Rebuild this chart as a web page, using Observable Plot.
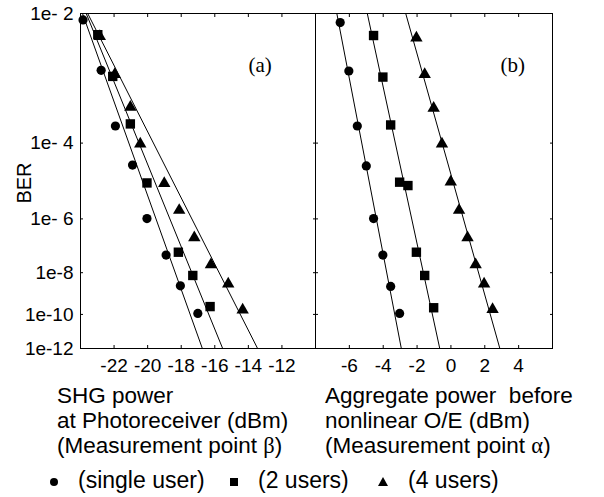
<!DOCTYPE html>
<html><head><meta charset="utf-8">
<script src="https://cdn.jsdelivr.net/npm/d3@7"></script>
<script src="https://cdn.jsdelivr.net/npm/@observablehq/plot@0.6"></script>
<style>
body{margin:0;background:#fff;}
#wrap{position:relative;width:604px;height:497px;font-family:"Liberation Sans",Arial,sans-serif;color:#000;overflow:hidden;}
#pa{position:absolute;left:0;top:0;}
#pb{position:absolute;left:315px;top:0;}
.ln{position:absolute;font-size:22.5px;line-height:25.2px;height:25.2px;white-space:pre;}
.gr{font-family:"Liberation Serif","Times New Roman",serif;}
.leg{position:absolute;top:468px;font-size:23px;line-height:25px;white-space:pre;}
.sym{position:absolute;}
</style></head><body>
<div id="wrap">
<div id="pa"></div><div id="pb"></div>
<div id="titles"></div>
<div id="legend"></div>
</div>
<script>
// ---- data (BER given as log10(BER)) ----
const yExponents = [2, 4, 6, 8, 10, 12];
const yTickLabels = ["1e- 2", "1e- 4", "1e- 6", "1e-8", "1e-10", "1e-12"];
const xTicksA = [-22, -20, -18, -16, -14, -12];
const xTicksB = [-6, -4, -2, 0, 2, 4];
const seriesNames = ["(single user)", "(2 users)", "(4 users)"];
const titleA = ["SHG power", "at Photoreceiver (dBm)", "(Measurement point |β|)"];
const titleB = ["Aggregate power  before", "nonlinear O/E (dBm)", "(Measurement point |α|)"];

// Panel (a): SHG power at photoreceiver
const xA_single = [-23.85, -22.77, -21.92, -20.90, -20.04, -18.90, -18.05, -17.01];
const berA_single = [-2.07, -2.71, -3.65, -4.50, -5.99, -7.28, -8.58, -9.95];
const xA_two = [-22.97, -22.08, -21.03, -20.04, -18.17, -17.31, -16.28];
const berA_two = [-2.24, -2.80, -3.61, -4.95, -7.17, -8.12, -9.59];
const xA_four = [-22.85, -21.96, -21.03, -20.44, -19.01, -18.12, -17.22, -16.23, -15.20, -14.34];
const berA_four = [-2.26, -2.77, -3.30, -4.02, -4.96, -5.73, -6.63, -7.66, -8.49, -9.76];
const fitA_single_x = [-23.88, -16.74], fitA_single_ber = [-2, -12];
const fitA_two_x = [-23.66, -15.53], fitA_two_ber = [-2, -12];
const fitA_four_x = [-23.57, -13.45], fitA_four_ber = [-2, -12];

// Panel (b): aggregate power before nonlinear O/E
const xB_single = [-6.54, -6.03, -5.53, -5.00, -4.57, -4.02, -3.56, -3.03];
const berB_single = [-2.10, -2.72, -3.65, -4.52, -5.99, -7.28, -8.61, -9.95];
const xB_two = [-4.57, -4.02, -3.56, -3.03, -2.54, -2.04, -1.55, -1.02];
const berB_two = [-2.25, -2.81, -3.63, -4.93, -5.02, -7.17, -8.12, -9.65];
const xB_four = [-2.04, -1.55, -1.02, -0.53, -0.01, 0.48, 0.98, 1.46, 1.96, 2.46];
const berB_four = [-2.28, -2.77, -3.32, -4.02, -4.92, -5.73, -6.63, -7.66, -8.49, -9.74];
const fitB_single_x = [-6.74, -2.93], fitB_single_ber = [-2, -12];
const fitB_two_x = [-4.94, -0.66], fitB_two_ber = [-2, -12];
const fitB_four_x = [-2.67, 2.89], fitB_four_ber = [-2, -12];

// ---- helpers ----
const fy = v => Math.log10(-v);            // BER axis: log(-log BER)
const yTicks = yExponents.map(e => Math.log10(e));
const yFmt = d => yTickLabels[yTicks.findIndex(t => Math.abs(t - d) < 1e-9)];
const rows = (xs, ys, s) => xs.map((x, i) => ({x, y: ys[i], s}));

function panel({width, marginLeft, marginRight, xDomain, xTicks, pts, fits, tag, tagX, leftLabels}) {
  const marks = [
    Plot.line([].concat(...fits), {x: "x", y: d => fy(d.y), z: "s", stroke: "black", strokeWidth: 1}),
    Plot.dot(pts[0], {x: "x", y: d => fy(d.y), symbol: "circle", fill: "black", r: 4.6}),
    Plot.dot(pts[1], {x: "x", y: d => fy(d.y), symbol: "square", fill: "black", r: 5.3}),
    Plot.dot(pts[2], {x: "x", y: d => fy(d.y), symbol: "triangle", fill: "black", r: 4.6}),
    Plot.frame({stroke: "black", strokeWidth: 1}),
    Plot.axisX(xTicks, {anchor: "bottom", tickSize: -3, fill: "none"}),
    Plot.axisX(xTicks, {anchor: "top", tickSize: -3, fill: "none"}),
    Plot.axisX(xTicks, {anchor: "bottom", tickSize: 0, tickPadding: 10, tickFormat: d => String(d), label: null, fontSize: 19}),
    Plot.axisY(yTicks, {anchor: "left", tickSize: -3, fill: "none"}),
    Plot.axisY(yTicks, {anchor: "right", tickSize: -3, fill: "none"}),
    Plot.text([tag], {x: tagX, frameAnchor: "top", dy: 44, fontFamily: "Liberation Serif, Times New Roman, serif", fontSize: 21})
  ];
  if (leftLabels) {
    marks.push(Plot.axisY(yTicks, {anchor: "left", tickSize: 0, tickPadding: 7, tickFormat: yFmt, label: null, fontSize: 19}));
    marks.push(Plot.text(["BER"], {frameAnchor: "left", dx: -56, dy: 2, rotate: -90, textAnchor: "middle", fontSize: 20}));
  }
  return Plot.plot({
    width, height: 380, marginLeft, marginRight, marginTop: 13, marginBottom: 32,
    x: {domain: xDomain},
    y: {domain: [Math.log10(2), Math.log10(12)], reverse: true},
    style: {fontFamily: "Liberation Sans, Arial, sans-serif", fontSize: "19px", color: "black", background: "transparent", overflow: "visible"},
    marks
  });
}

document.getElementById("pa").appendChild(panel({
  width: 316, marginLeft: 80, marginRight: 1, xDomain: [-24, -10], xTicks: xTicksA,
  pts: [rows(xA_single, berA_single, 0), rows(xA_two, berA_two, 1), rows(xA_four, berA_four, 2)],
  fits: [rows(fitA_single_x, fitA_single_ber, 0), rows(fitA_two_x, fitA_two_ber, 1), rows(fitA_four_x, fitA_four_ber, 2)],
  tag: "(a)", tagX: -13.3, leftLabels: true
}));
document.getElementById("pb").appendChild(panel({
  width: 289, marginLeft: 0, marginRight: 52, xDomain: [-8, 6], xTicks: xTicksB,
  pts: [rows(xB_single, berB_single, 0), rows(xB_two, berB_two, 1), rows(xB_four, berB_four, 2)],
  fits: [rows(fitB_single_x, fitB_single_ber, 0), rows(fitB_two_x, fitB_two_ber, 1), rows(fitB_four_x, fitB_four_ber, 2)],
  tag: "(b)", tagX: 3.65, leftLabels: false
}));

// axis titles below the panels, one line per div
const titles = document.getElementById("titles");
function addTitle(lines, left) {
  lines.forEach((txt, i) => {
    const d = document.createElement("div");
    d.className = "ln";
    d.style.left = left + "px";
    d.style.top = (383 + i * 25.2) + "px";
    const parts = txt.split("|");
    parts.forEach((p, k) => {
      if (k === 1) { const s = document.createElement("span"); s.className = "gr"; s.textContent = p; d.appendChild(s); }
      else d.appendChild(document.createTextNode(p));
    });
    titles.appendChild(d);
  });
}
addTitle(titleA, 57);
addTitle(titleB, 325);

// legend
const leg = document.getElementById("legend");
const legSym = [
  {left: 50, style: "top:478px;width:8px;height:8px;border-radius:50%;background:#000;"},
  {left: 230, style: "top:478px;width:8px;height:8px;background:#000;"},
  {left: 378, style: "top:477px;width:0;height:0;border-left:5px solid transparent;border-right:5px solid transparent;border-bottom:9px solid #000;"}
];
const legText = [78, 258, 408];
seriesNames.forEach((name, i) => {
  const s = document.createElement("div");
  s.className = "sym";
  s.style.cssText = legSym[i].style + "left:" + legSym[i].left + "px;";
  leg.appendChild(s);
  const t = document.createElement("div");
  t.className = "leg";
  t.style.left = legText[i] + "px";
  t.textContent = name;
  leg.appendChild(t);
});
</script>
</body></html>
